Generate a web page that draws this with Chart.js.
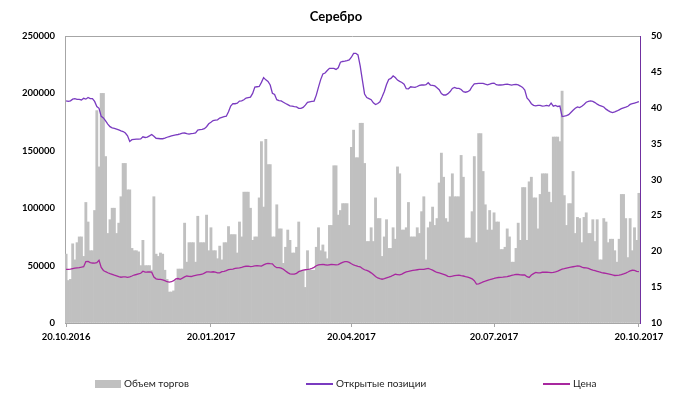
<!DOCTYPE html>
<html>
<head>
<meta charset="utf-8">
<script src="https://cdn.jsdelivr.net/npm/chart.js@4.4.1/dist/chart.umd.min.js"></script>
<style>
  html, body { margin: 0; padding: 0; background: #ffffff; }
  #wrap { width: 686px; height: 396px; }
</style>
</head>
<body>
<div id="wrap"><canvas id="chart" width="686" height="396"></canvas></div>
<script>
// Trading period and the dates shown on the horizontal axis
const startDate = '2016-10-20';
const endDate = '2017-10-20';
const labeledDates = ['20.10.2016', '20.01.2017', '20.04.2017', '20.07.2017', '20.10.2017'];

// Daily trading volume, contracts (left axis)
const volume = [
  60000, 37000, 38000, 69000, 55000, 70000, 75000, 75000, 58000, 105000,
  88000, 63000, 63000, 98000, 185000, 136000, 200000, 200000, 145000, 78000,
  90000, 100000, 100000, 78000, 87000, 110000, 139000, 139000, 116000, 116000,
  65000, 63000, 63000, 62000, 50000, 72000, 50000, 50000, 50000, 46000,
  110000, 60000, 58000, 61000, 60000, 46000, 38000, 27000, 27000, 28000,
  37000, 47000, 47000, 47000, 87000, 53000, 70000, 70000, 70000, 53000,
  93000, 70000, 70000, 70000, 94000, 63000, 83000, 63000, 63000, 56000,
  67000, 55000, 70000, 70000, 84000, 77000, 77000, 77000, 61000, 88000,
  75000, 114000, 114000, 114000, 100000, 72000, 75000, 75000, 109000, 158000,
  101000, 160000, 138000, 138000, 75000, 75000, 103000, 82000, 82000, 52000,
  66000, 81000, 72000, 61000, 61000, 66000, 88000, 46000, 46000, 31000,
  63000, 46000, 46000, 46000, 66000, 83000, 63000, 68000, 62000, 56000,
  85000, 85000, 137000, 137000, 94000, 98000, 104000, 104000, 104000, 85000,
  153000, 168000, 144000, 144000, 174000, 174000, 139000, 71000, 71000, 83000,
  71000, 109000, 91000, 91000, 58000, 75000, 90000, 65000, 65000, 83000,
  73000, 136000, 130000, 81000, 81000, 83000, 105000, 75000, 75000, 75000,
  83000, 78000, 97000, 110000, 55000, 83000, 88000, 101000, 85000, 91000,
  122000, 148000, 127000, 91000, 88000, 110000, 130000, 110000, 110000, 110000,
  146000, 127000, 74000, 74000, 74000, 97000, 145000, 70000, 165000, 165000,
  132000, 103000, 81000, 98000, 81000, 96000, 88000, 88000, 64000, 64000,
  66000, 82000, 75000, 53000, 53000, 65000, 87000, 72000, 118000, 118000,
  72000, 123000, 127000, 109000, 109000, 82000, 112000, 130000, 130000, 130000,
  114000, 105000, 162000, 162000, 162000, 158000, 202000, 111000, 85000, 104000,
  104000, 132000, 78000, 92000, 91000, 70000, 92000, 96000, 78000, 78000,
  90000, 71000, 90000, 55000, 55000, 91000, 88000, 70000, 73000, 73000,
  63000, 53000, 73000, 112000, 112000, 91000, 57000, 91000, 63000, 83000,
  72000, 113000
];

// Open interest, contracts (left axis)
const openInterest = [
  193500, 193000, 193500, 195000, 195500, 194800, 194800, 194300, 195700, 195000,
  196500, 195400, 195500, 193000, 188600, 187000, 180000, 178600, 176000, 173300,
  171000, 170000, 169500, 168900, 168200, 167400, 166800, 165500, 163000, 158200,
  159700, 160000, 160200, 160200, 160300, 162200, 161600, 162000, 163000, 164200,
  162600, 160900, 160700, 160500, 160500, 161000, 161800, 162400, 163000, 163400,
  163800, 164200, 164700, 165400, 165500, 164900, 164500, 165000, 165200, 165500,
  168100, 168400, 168700, 169300, 171000, 173500, 174800, 176300, 176800, 177000,
  178500, 179200, 179700, 180100, 184000, 189000, 191100, 191000, 191500, 193300,
  193500, 194500, 196000, 196400, 196800, 200000, 205500, 205800, 206000, 209600,
  213800, 211800, 210400, 207300, 200100, 199000, 194500, 193800, 193400, 192300,
  191200, 190200, 189100, 189000, 188500, 188200, 187000, 187000, 187800, 189800,
  192300, 192700, 193000, 193300, 198500, 205500, 212000, 216900, 217800, 219900,
  221800, 221800, 221800, 220900, 222300, 227200, 227800, 228100, 228600, 229200,
  231500, 234900, 234900, 233500, 224000, 211500, 199500, 196400, 195500, 194500,
  191800, 190300, 191200, 192700, 197000, 201700, 207800, 212200, 213100, 215200,
  213800, 211600, 210500, 209500, 208000, 204100, 204000, 205800, 205500, 205200,
  206000, 207000, 207300, 207300, 207600, 209300, 207300, 207000, 206500, 205000,
  203200, 199800, 198600, 198600, 199800, 201600, 204300, 205200, 204400, 204400,
  203400, 201500, 201000, 201500, 202800, 206000, 208300, 208600, 208800, 208800,
  208800, 208000, 207500, 208000, 208800, 209000, 207600, 207300, 207300, 207400,
  207900, 208100, 207700, 207300, 207600, 207800, 207400, 206400, 205200, 202900,
  196000, 193900, 191000, 189600, 189100, 189600, 189600, 189000, 189200, 189500,
  189000, 191500, 188900, 189600, 188600, 189000, 179800, 180200, 180700, 181500,
  183400, 185300, 187000, 188200, 187600, 188800, 190400, 192300, 193000, 193400,
  193100, 192000, 190600, 189600, 189000, 188200, 186300, 185000, 183900, 183300,
  183900, 184700, 185700, 186700, 187400, 188000, 188800, 190400, 191000, 191600,
  192100, 192800
];

// Silver price, USD per ounce (right axis)
const price = [
  17.48, 17.48, 17.50, 17.58, 17.64, 17.68, 17.72, 17.78, 17.85, 18.56,
  18.58, 18.42, 18.36, 18.34, 18.40, 18.75, 17.75, 17.32, 17.15, 17.00,
  16.88, 16.78, 16.67, 16.58, 16.47, 16.38, 16.44, 16.42, 16.37, 16.44,
  16.55, 16.69, 16.76, 16.85, 16.93, 17.22, 17.10, 17.11, 17.13, 17.08,
  16.40, 16.15, 16.09, 16.09, 16.02, 15.90, 15.75, 15.70, 15.75, 15.90,
  16.15, 16.20, 16.09, 16.25, 16.42, 16.55, 16.50, 16.48, 16.58, 16.65,
  16.70, 16.75, 16.80, 16.95, 17.12, 17.12, 17.08, 17.14, 17.10, 17.00,
  16.98, 17.15, 17.20, 17.30, 17.45, 17.48, 17.50, 17.60, 17.65, 17.69,
  17.75, 17.85, 17.91, 17.92, 17.86, 17.90, 17.95, 17.99, 17.97, 17.94,
  18.10, 18.24, 18.31, 18.27, 18.24, 17.90, 17.71, 17.71, 17.65, 17.50,
  17.25, 17.02, 16.85, 16.82, 16.80, 16.92, 17.16, 17.26, 17.37, 17.42,
  17.46, 17.52, 17.62, 17.75, 17.98, 18.10, 18.15, 18.17, 18.12, 18.08,
  18.12, 18.17, 18.15, 18.10, 18.14, 18.31, 18.46, 18.55, 18.55, 18.45,
  18.25, 18.09, 17.98, 17.90, 17.84, 17.60, 17.42, 17.33, 17.20, 16.99,
  16.75, 16.48, 16.28, 16.18, 16.10, 16.19, 16.29, 16.39, 16.50, 16.65,
  16.79, 16.75, 16.70, 16.81, 16.98, 17.11, 17.18, 17.26, 17.32, 17.38,
  17.42, 17.46, 17.48, 17.48, 17.55, 17.62, 17.49, 17.36, 17.20, 17.04,
  16.97, 16.89, 16.79, 16.68, 16.50, 16.46, 16.52, 16.59, 16.65, 16.68,
  16.61, 16.55, 16.47, 16.40, 16.30, 16.16, 15.90, 15.42, 15.46, 15.58,
  15.73, 15.83, 15.94, 16.03, 16.13, 16.21, 16.30, 16.34, 16.36, 16.39,
  16.43, 16.47, 16.55, 16.64, 16.70, 16.77, 16.76, 16.72, 16.69, 16.69,
  16.45, 16.35, 16.68, 16.88, 17.06, 16.98, 16.99, 17.07, 17.07, 17.07,
  17.05, 17.03, 17.06, 17.13, 17.23, 17.38, 17.50, 17.57, 17.65, 17.72,
  17.78, 17.84, 17.90, 17.96, 17.92, 17.80, 17.70, 17.67, 17.62, 17.47,
  17.37, 17.31, 17.21, 17.11, 17.03, 16.97, 16.91, 16.85, 16.79, 16.70,
  16.62, 16.63, 16.67, 16.74, 16.84, 16.96, 17.11, 17.27, 17.35, 17.33,
  17.20, 17.15
];

// Weekdays between two ISO dates, formatted dd.mm.yyyy
function tradingDays(from, to) {
  const out = [];
  const d = new Date(from + 'T00:00:00Z');
  const end = new Date(to + 'T00:00:00Z');
  while (d <= end) {
    const wd = d.getUTCDay();
    if (wd !== 0 && wd !== 6) {
      out.push(String(d.getUTCDate()).padStart(2, '0') + '.' +
               String(d.getUTCMonth() + 1).padStart(2, '0') + '.' + d.getUTCFullYear());
    }
    d.setUTCDate(d.getUTCDate() + 1);
  }
  return out;
}
const days = tradingDays(startDate, endDate);

const FONT = 'Lato';
const AXIS_GREY = '#A6A6A6';

// Grey top edge of the plot frame
const plotFrame = {
  id: 'plotFrame',
  beforeDatasetsDraw(chart) {
    const { ctx, chartArea: a } = chart;
    ctx.save();
    ctx.strokeStyle = AXIS_GREY;
    ctx.lineWidth = 1;
    ctx.beginPath();
    ctx.moveTo(a.left, a.top + 0.5);
    ctx.lineTo(a.right, a.top + 0.5);
    ctx.stroke();
    ctx.restore();
  }
};

// Nudge the title a little to the left of the canvas centre
const titleShift = {
  id: 'titleShift',
  afterLayout(chart) {
    const t = chart.titleBlock;
    if (t) { t.left -= 14; }
  }
};

// Legend row under the axis, items spread across the width
const spreadLegend = {
  id: 'spreadLegend',
  afterDraw(chart) {
    const ctx = chart.ctx;
    const y = 384;
    const starts = [95, 306, 543];
    ctx.save();
    ctx.font = '10px ' + FONT;
    ctx.textBaseline = 'middle';
    chart.data.datasets.forEach((ds, i) => {
      const x = starts[i];
      let tx;
      if (ds.type === 'bar') {
        ctx.fillStyle = ds.backgroundColor;
        ctx.fillRect(x, y - 4, 26, 8);
        tx = x + 29;
      } else {
        ctx.strokeStyle = ds.borderColor;
        ctx.lineWidth = 2;
        ctx.beginPath();
        ctx.moveTo(x, y);
        ctx.lineTo(x + 27, y);
        ctx.stroke();
        tx = x + 30;
      }
      ctx.fillStyle = '#222222';
      ctx.fillText(ds.label, tx, y);
    });
    ctx.restore();
  }
};

const tickFont = { family: FONT, size: 9.5, weight: 'bold' };

new Chart(document.getElementById('chart'), {
  type: 'bar',
  data: {
    labels: days,
    datasets: [
      {
        type: 'bar', label: 'Объем торгов', data: volume, yAxisID: 'y', order: 3,
        backgroundColor: '#C0C0C0', borderWidth: 0, categoryPercentage: 1, barPercentage: 1
      },
      {
        type: 'line', label: 'Открытые позиции', data: openInterest, yAxisID: 'y', order: 2,
        borderColor: '#7A3BC0', borderWidth: 1.3, pointRadius: 0, tension: 0, fill: false
      },
      {
        type: 'line', label: 'Цена', data: price, yAxisID: 'y1', order: 1,
        borderColor: '#A8289F', borderWidth: 1.3, pointRadius: 0, tension: 0, fill: false
      }
    ]
  },
  options: {
    responsive: false,
    animation: false,
    devicePixelRatio: 1,
    layout: { padding: { left: 0, right: 0, top: 0, bottom: 51 } },
    plugins: {
      legend: { display: false },
      tooltip: { enabled: false },
      title: {
        display: true, text: 'Серебро', color: '#000000',
        font: { family: FONT, size: 13, weight: 'bold' },
        padding: { top: 9, bottom: 11.4 }
      }
    },
    scales: {
      x: {
        offset: true,
        grid: { display: true, drawOnChartArea: false, offset: false, tickLength: 4, color: AXIS_GREY },
        border: { color: AXIS_GREY },
        ticks: { autoSkip: false, maxRotation: 0, minRotation: 0, padding: 4, color: '#000000', font: tickFont },
        afterBuildTicks(scale) {
          scale.ticks = scale.ticks.filter(t => labeledDates.includes(days[t.value]));
        },
        afterFit(scale) { scale.height = 22; }
      },
      y: {
        position: 'left', min: 0, max: 250000,
        grid: { drawOnChartArea: false, drawTicks: false },
        border: { color: AXIS_GREY },
        ticks: { stepSize: 50000, padding: 10, color: '#000000', font: tickFont, callback: v => String(v) },
        afterFit(scale) { scale.width = 65; }
      },
      y1: {
        position: 'right', min: 10, max: 50,
        grid: { drawOnChartArea: false, drawTicks: false },
        border: { color: '#7030A0' },
        ticks: { stepSize: 5, padding: 11, color: '#000000', font: tickFont, callback: v => String(v) },
        afterFit(scale) { scale.width = 46; }
      }
    }
  },
  plugins: [plotFrame, titleShift, spreadLegend]
});
</script>
</body>
</html>
